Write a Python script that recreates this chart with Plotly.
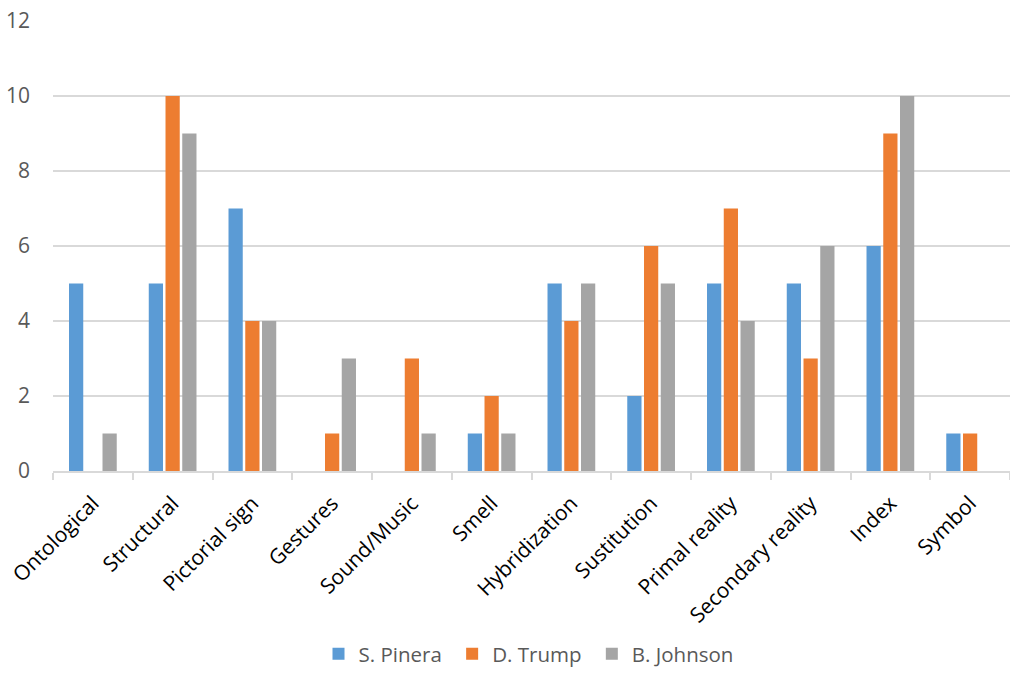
import plotly.graph_objects as go

categories = ["Ontological", "Structural", "Pictorial sign", "Gestures", "Sound/Music", "Smell",
              "Hybridization", "Sustitution", "Primal reality", "Secondary reality", "Index", "Symbol"]
pinera = [5, 5, 7, 0, 0, 1, 5, 2, 5, 5, 6, 1]
trump = [0, 10, 4, 1, 3, 2, 4, 6, 7, 3, 9, 1]
johnson = [1, 9, 4, 3, 1, 1, 5, 5, 4, 6, 10, 0]
series_names = ["S. Pinera", "D. Trump", "B. Johnson"]
colors = ["#5B9BD5", "#ED7D31", "#A5A5A5"]
y_ticks = [0, 2, 4, 6, 8, 10, 12]

fig = go.Figure()
for name, vals, col in zip(series_names, [pinera, trump, johnson], colors):
    fig.add_trace(go.Bar(name=name + "\u00a0", x=categories, y=vals,
                         marker=dict(color=col, line=dict(width=0))))

fig.update_layout(
    width=1010, height=674,
    margin=dict(l=53, r=0, t=21, b=203),
    paper_bgcolor="white", plot_bgcolor="white",
    barmode="group", bargap=0.37, bargroupgap=0.15,
    font=dict(family="Open Sans", color="#595959", size=18),
    legend=dict(orientation="h", x=0.5, xanchor="center", xref="paper",
                y=0.0, yanchor="bottom", yref="container",
                font=dict(size=20.5, color="#595959", family="Open Sans"),
                itemwidth=30, tracegroupgap=0),
    showlegend=True,
)
fig.update_xaxes(
    showline=True, linecolor="#D9D9D9", linewidth=1.5,
    ticks="outside", tickson="boundaries", ticklen=7, tickcolor="#D9D9D9", tickwidth=1.5,
    tickangle=-45, tickfont=dict(family="Open Sans", size=21, color="#000000"),
    ticklabelstandoff=10,
    showgrid=False,
)
fig.update_yaxes(
    range=[0, 12], tickvals=y_ticks, showgrid=True, gridcolor="#D9D9D9", gridwidth=1.5,
    zeroline=False, showline=False, ticks="",
    tickfont=dict(family="Open Sans", size=21, color="#595959"),
    ticklabelstandoff=22,
)

fig.write_html("out.html")
